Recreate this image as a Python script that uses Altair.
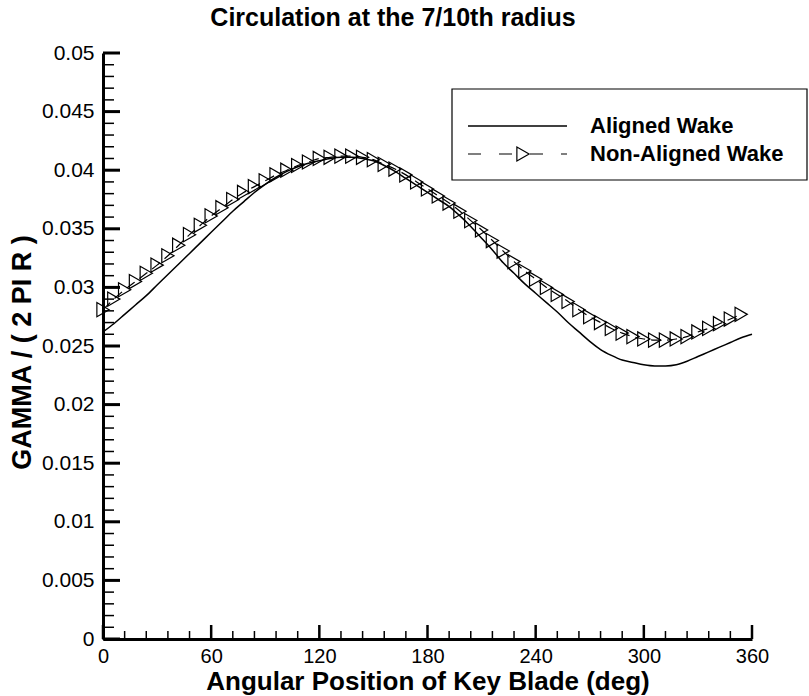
import altair as alt
import pandas as pd

FONT = "Liberation Sans"

# ---------------- data ----------------
deg_aligned = [0, 6, 12, 18, 24, 30, 36, 42, 48, 54, 60, 66, 72, 78, 84, 90, 96, 102, 108, 114,
               120, 126, 132, 138, 144, 150, 156, 162, 168, 174, 180, 186, 192, 198, 204, 210,
               216, 222, 228, 234, 240, 246, 252, 258, 264, 270, 276, 282, 288, 294, 300, 306,
               312, 318, 324, 330, 336, 342, 348, 354, 360]
gamma_aligned = [0.0262, 0.0269, 0.0277, 0.0285, 0.0293, 0.0302, 0.0311, 0.0320, 0.0329, 0.0338,
                 0.0347, 0.0356, 0.0365, 0.0373, 0.0381, 0.0388, 0.0394, 0.0399, 0.0403, 0.0406,
                 0.0408, 0.0410, 0.0411, 0.0411, 0.0410, 0.0408, 0.0404, 0.0399, 0.0393, 0.0387,
                 0.0381, 0.0375, 0.0369, 0.0361, 0.0352, 0.0342, 0.0332, 0.0321, 0.0312, 0.0303,
                 0.0295, 0.0287, 0.0279, 0.0270, 0.0262, 0.0254, 0.0247, 0.0242, 0.0238, 0.0236,
                 0.0234, 0.0233, 0.0233, 0.0234, 0.0237, 0.0241, 0.0245, 0.0249, 0.0253, 0.0257,
                 0.0260]

deg_nonaligned = [0, 6, 12, 18, 24, 30, 36, 42, 48, 54, 60, 66, 72, 78, 84, 90, 96, 102, 108, 114,
                  120, 126, 132, 138, 144, 150, 156, 162, 168, 174, 180, 186, 192, 198, 204, 210,
                  216, 222, 228, 234, 240, 246, 252, 258, 264, 270, 276, 282, 288, 294, 300, 306,
                  312, 318, 324, 330, 336, 342, 348, 354]
gamma_nonaligned = [0.0281, 0.0290, 0.0298, 0.0305, 0.0312, 0.0319, 0.0327, 0.0336, 0.0345, 0.0353,
                    0.0361, 0.0368, 0.0375, 0.0381, 0.0386, 0.0391, 0.0396, 0.0400, 0.0404, 0.0407,
                    0.0410, 0.0411, 0.0412, 0.0412, 0.0411, 0.0409, 0.0405, 0.0401, 0.0396, 0.0390,
                    0.0384, 0.0378, 0.0372, 0.0365, 0.0357, 0.0349, 0.0340, 0.0331, 0.0322, 0.0314,
                    0.0307, 0.0300, 0.0294, 0.0288, 0.0281, 0.0275, 0.0270, 0.0265, 0.0261, 0.0258,
                    0.0256, 0.0255, 0.0255, 0.0256, 0.0258, 0.0262, 0.0265, 0.0269, 0.0273, 0.0277]

x_major = [0, 60, 120, 180, 240, 300, 360]
x_minor = [12, 24, 36, 48, 72, 84, 96, 108, 132, 144, 156, 168, 192, 204, 216, 228,
           252, 264, 276, 288, 312, 324, 336, 348]
y_major = [0, 0.005, 0.01, 0.015, 0.02, 0.025, 0.03, 0.035, 0.04, 0.045, 0.05]
y_minor = [0.001, 0.002, 0.003, 0.004, 0.006, 0.007, 0.008, 0.009, 0.011, 0.012, 0.013, 0.014,
           0.016, 0.017, 0.018, 0.019, 0.021, 0.022, 0.023, 0.024, 0.026, 0.027, 0.028, 0.029,
           0.031, 0.032, 0.033, 0.034, 0.036, 0.037, 0.038, 0.039, 0.041, 0.042, 0.043, 0.044,
           0.046, 0.047, 0.048, 0.049]

title_text = "Circulation at the 7/10th radius"
x_title = "Angular Position of Key Blade (deg)"
y_title = "GAMMA / ( 2 PI R )"
legend_labels = ["Aligned Wake", "Non-Aligned Wake"]

# ---------------- layout ----------------
W, H = 649, 586
xs = alt.Scale(domain=[0, 360], nice=False, zero=False)
ys = alt.Scale(domain=[0, 0.05], nice=False, zero=False)

df_a = pd.DataFrame({"deg": deg_aligned, "gamma": gamma_aligned})
df_n = pd.DataFrame({"deg": deg_nonaligned, "gamma": gamma_nonaligned})
one = pd.DataFrame({"k": [0]})

x_axis = alt.Axis(values=x_major, ticks=False, grid=False, domainWidth=3, domainColor="black",
                  labelFontSize=20, labelFont=FONT, labelColor="black", labelPadding=7,
                  labelFlush=False, title=x_title, titleFont=FONT, titleFontSize=26,
                  titleFontWeight="bold", titleColor="black", titleY=42, titleBaseline="middle")
y_axis = alt.Axis(values=y_major, ticks=False, grid=False, domainWidth=3, domainColor="black",
                  format="~g", labelFontSize=21, labelFont=FONT, labelColor="black",
                  labelPadding=9, labelFlush=False, title=y_title, titleFont=FONT,
                  titleFontSize=27, titleFontWeight="bold", titleColor="black",
                  titleX=-81, titleY=H / 2 + 6, titleAngle=-90, titleAlign="center",
                  titleBaseline="middle")


def X(field):
    return alt.X(field, scale=xs, axis=x_axis)


def Y(field):
    return alt.Y(field, scale=ys, axis=y_axis)


aligned = alt.Chart(df_a).mark_line(color="black", strokeWidth=1.5,
                                    interpolate="monotone").encode(
    x=X("deg:Q"), y=Y("gamma:Q"))
nonaligned_line = alt.Chart(df_n).mark_line(color="black", strokeWidth=1.2, interpolate="monotone",
                                            strokeDash=[10, 6]).encode(
    x=X("deg:Q"), y=Y("gamma:Q"))
nonaligned_pts = alt.Chart(df_n).mark_point(shape="triangle-right", filled=False, color="black",
                                            size=200, strokeWidth=1.2, opacity=1).encode(
    x=X("deg:Q"), y=Y("gamma:Q"))

# inward ticks
xmaj = alt.Chart(pd.DataFrame({"deg": x_major})).mark_rule(color="black", strokeWidth=2.5).encode(
    x=X("deg:Q"), y=alt.value(H), y2=alt.value(H - 14))
xmin = alt.Chart(pd.DataFrame({"deg": x_minor})).mark_rule(color="black", strokeWidth=1.5).encode(
    x=X("deg:Q"), y=alt.value(H), y2=alt.value(H - 8))
ymaj = alt.Chart(pd.DataFrame({"gamma": y_major})).mark_rule(color="black", strokeWidth=3).encode(
    y=Y("gamma:Q"), x=alt.value(0), x2=alt.value(17))
ymin = alt.Chart(pd.DataFrame({"gamma": y_minor})).mark_rule(color="black", strokeWidth=1.5).encode(
    y=Y("gamma:Q"), x=alt.value(0), x2=alt.value(11))

# title
title = alt.Chart(one).mark_text(text=title_text, font=FONT, fontSize=25, fontWeight="bold",
                                 align="center", baseline="middle", color="black").encode(
    x=alt.value(290), y=alt.value(-35))

# legend
LX0, LX1, LY0, LY1 = 349, 704, 36, 127
box = alt.Chart(one).mark_rect(fill="white", stroke="black", strokeWidth=1.2).encode(
    x=alt.value(LX0), x2=alt.value(LX1), y=alt.value(LY0), y2=alt.value(LY1))
leg_solid = alt.Chart(one).mark_rule(color="black", strokeWidth=1.5).encode(
    x=alt.value(365), x2=alt.value(464), y=alt.value(73))
leg_dash = alt.Chart(one).mark_rule(color="black", strokeWidth=1.2, strokeDash=[13, 18]).encode(
    x=alt.value(365), x2=alt.value(464), y=alt.value(101))
leg_tri = alt.Chart(one).mark_point(shape="triangle-right", filled=False, color="black", size=200,
                                    strokeWidth=1.2, opacity=1).encode(
    x=alt.value(420), y=alt.value(101))
leg_t1 = alt.Chart(one).mark_text(text=legend_labels[0], font=FONT, fontSize=22,
                                  fontWeight="bold", align="left", baseline="middle",
                                  color="black").encode(x=alt.value(487), y=alt.value(73))
leg_t2 = alt.Chart(one).mark_text(text=legend_labels[1], font=FONT, fontSize=22,
                                  fontWeight="bold", align="left", baseline="middle",
                                  color="black").encode(x=alt.value(487), y=alt.value(101))

chart = alt.layer(
    aligned, nonaligned_line, nonaligned_pts, xmaj, xmin, ymaj, ymin,
    title, box, leg_solid, leg_dash, leg_tri, leg_t1, leg_t2,
).properties(
    width=W, height=H, autosize="none",
    padding={"left": 103, "top": 53, "right": 57, "bottom": 57},
    background="white",
).configure_view(stroke=None)

chart.save("out.html", embed_options={"renderer": "svg", "actions": False})
